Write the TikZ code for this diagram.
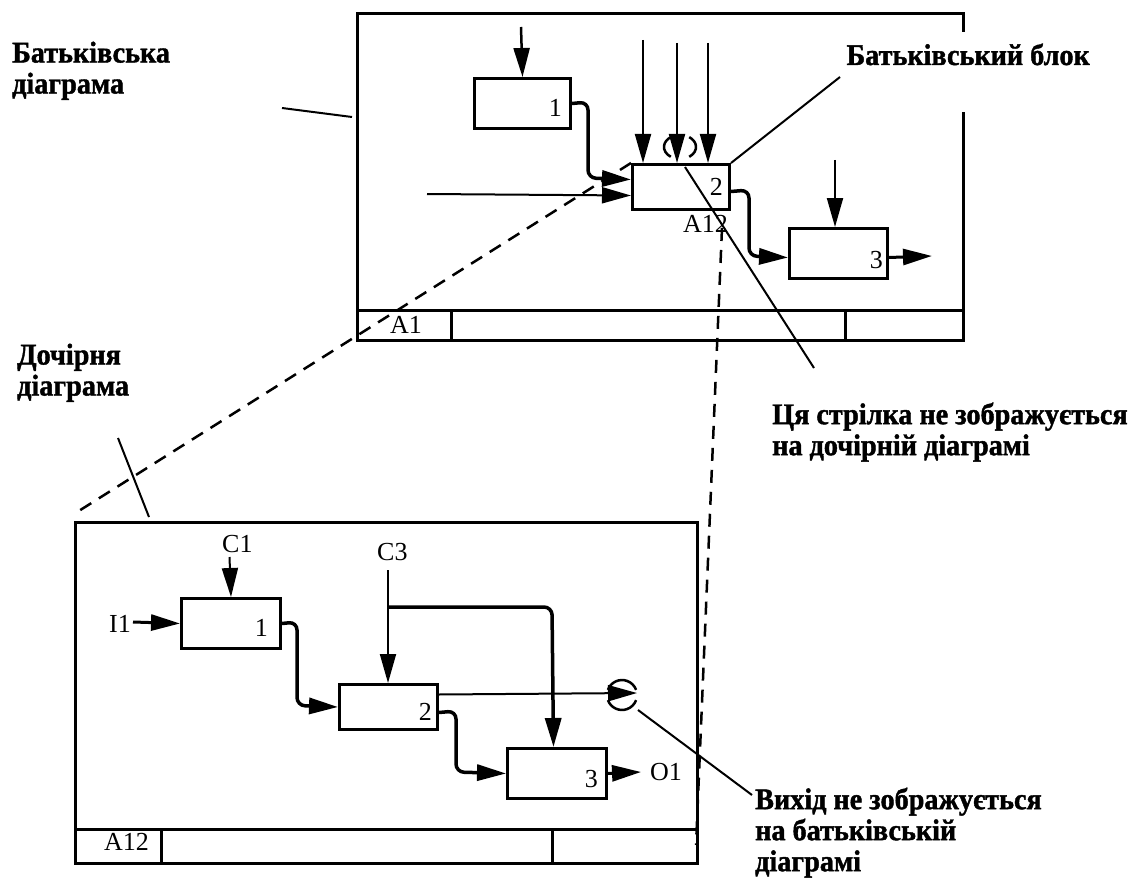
\documentclass[tikz,border=0pt]{standalone}
\usepackage{fontspec}
\setmainfont{Liberation Serif}
\newfontfamily\notefont[FakeStretch=0.94,FakeBold=1.4]{Liberation Serif}
\usetikzlibrary{arrows.meta}
\begin{document}
\begin{tikzpicture}[x=1pt,y=-1pt,
  frameline/.style={line width=3pt},
  blk/.style={draw,line width=3pt,inner sep=0pt,anchor=north west},
  tip/.style={-{Triangle[length=29pt,width=16pt]}},
  ctl/.style={tip,line width=2pt},
  flow/.style={tip,line width=3.5pt,rounded corners=8pt},
  ptr/.style={line width=2pt},
  dashline/.style={line width=2.5pt,dash pattern=on 13pt off 9pt},
  lbl/.style={inner sep=0pt,font=\fontsize{26}{30}\selectfont},
  note/.style={inner sep=0pt,align=left,anchor=north west,
    font=\notefont\bfseries\fontsize{30}{31}\selectfont},
  tun/.style={line width=2.5pt}
]
\useasboundingbox (0,0) rectangle (1141,880);

% ---------- parent diagram A1 ----------
\draw[frameline] (963,32) -- (963,14) -- (357,14) -- (357,340) -- (963,340) -- (963,112);
\draw[frameline] (357,310) -- (963,310);
\draw[frameline] (451,310) -- (451,340);
\draw[frameline] (845,312) -- (845,340);
\node[lbl,anchor=base west] (pA1) at (390,333) {A1};

\node[blk,minimum width=96pt,minimum height=50pt] (P1) at (473,77) {};
\node[blk,minimum width=97pt,minimum height=45pt] (P2) at (631,163) {};
\node[blk,minimum width=98pt,minimum height=50pt] (P3) at (788,227) {};
\node[lbl,anchor=base east] (n1) at (562,117) {1};
\node[lbl,anchor=base east] (n2) at (723,195) {2};
\node[lbl,anchor=base east] (n3) at (883,268) {3};
\node[lbl,anchor=base west] (pA12) at (683,232) {A12};

% controls and inputs
\coordinate (p1c) at (521,27);
\draw[ctl,line width=2.5pt] (p1c) -- (P1.north);
\coordinate (pa) at (643,40);
\coordinate (pb) at (677,43);
\coordinate (pc) at (708,43);
\draw[ctl] (pa) -- (pa |- P2.north);
\draw[ctl] (pb) -- (pb |- P2.north);
\draw[ctl] (pc) -- (pc |- P2.north);
\coordinate (p3c) at (835,160);
\draw[ctl] (p3c) -- (P3.north -| p3c);
\coordinate (pin) at (427,194);
\draw[ctl] (pin) -- ([yshift=-8.5pt]P2.west);

% tunnelled arrow mark
\draw[tun] (670.8,156.8) arc[start angle=-125,end angle=-235,x radius=16pt,y radius=12pt];
\draw[tun] (689.2,156.8) arc[start angle=-55,end angle=55,x radius=16pt,y radius=12pt];

% outputs between blocks
\draw[flow] (P1.east) -- (588,102) -- (588,178) -- ([yshift=7.5pt]P2.west);
\draw[flow] ([yshift=-4.5pt]P2.east) -- (749,190) -- (749,256) -- ([yshift=-4pt]P3.west);
\coordinate (p3out) at (932,256);
\draw[ctl,line width=3pt] ([yshift=-4pt]P3.east) -- (p3out);

% ---------- child diagram A12 ----------
\draw[frameline] (75,522) rectangle (697,863);
\draw[frameline] (75,829) -- (697,829);
\draw[frameline] (161,829) -- (161,863);
\draw[frameline] (552,829) -- (552,863);
\node[lbl,anchor=base west] (cA12) at (104,850) {A12};

\node[blk,minimum width=99pt,minimum height=50pt] (C1box) at (180,597) {};
\node[blk,minimum width=98pt,minimum height=45pt] (C2box) at (338,683) {};
\node[blk,minimum width=99pt,minimum height=50pt] (C3box) at (506,747) {};
\node[lbl,anchor=base east] (m1) at (268,636) {1};
\node[lbl,anchor=base east] (m2) at (432,720) {2};
\node[lbl,anchor=base east] (m3) at (598,787) {3};

\node[lbl,anchor=base west] (lC1) at (222,552) {C1};
\node[lbl,anchor=base west] (lC3) at (377,560) {C3};
\node[lbl,anchor=base west] (lI1) at (109,632) {I1};
\node[lbl,anchor=base west] (lO1) at (650,780) {O1};

\coordinate (c1top) at (229.5,557);
\draw[ctl] (c1top) -- (C1box.north);
\coordinate (i1end) at (133,622);
\draw[ctl,line width=3pt] (i1end) -- (C1box.west);
\coordinate (c3top) at (388,570);
\draw[ctl] (c3top) -- (c3top |- C2box.north);
\coordinate (c3br) at (388,607);
\draw[flow] (c3br) -- (552,607) -- ([xshift=-3.5pt]C3box.north);

\draw[flow] (C1box.east) -- (297,622) -- (297,705.5) -- (C2box.west);
\draw[flow] ([yshift=-5.5pt]C2box.east) -- (456,711) -- (456,772) -- (C3box.west);
\coordinate (o1end) at (641,772);
\draw[ctl,line width=3pt] (C3box.east) -- (o1end);
\coordinate (tunend) at (637,693);
\draw[ctl] ([yshift=12.5pt]C2box.east) -- (tunend);
\draw[tun] (607.9,689.9) arc[start angle=160,end angle=20,radius=15pt];
\draw[tun] (607.9,700.1) arc[start angle=200,end angle=340,radius=15pt];

% ---------- decomposition links ----------
\coordinate (cTL) at (74,514);
\draw[dashline] (P2.north west) -- (cTL);
\coordinate (vtop) at (722,228);
\coordinate (vbot) at (696,845);
\draw[dashline] (vtop) -- (vbot);

% ---------- annotations ----------
\node[note] (tParent) at (12,41.5) {Батьківська\\діаграма};
\node[note] (tChild) at (17,343.5) {Дочірня\\діаграма};
\node[note,anchor=base east] (tBlock) at (1090,65) {Батьківський блок};
\node[note] (tArrow) at (772,402.5) {Ця стрілка не зображується\\на дочірній діаграмі};
\node[note] (tOut) at (755,787.5) {Вихід не зображується\\на батьківській\\діаграмі};

\coordinate (k1a) at (282,108);
\coordinate (k1b) at (352,117);
\draw[ptr] (k1a) -- (k1b);
\coordinate (k2a) at (118,438);
\coordinate (k2b) at (149,517);
\draw[ptr] (k2a) -- (k2b);
\coordinate (blkEnd) at (840,77);
\draw[ptr] (P2.north east) -- (blkEnd);
\coordinate (arrA) at (685,167);
\coordinate (arrB) at (814,368);
\draw[ptr] (arrA) -- (arrB);
\coordinate (outA) at (638,710);
\coordinate (outB) at (752,795);
\draw[ptr] (outA) -- (outB);
\end{tikzpicture}
\end{document}
